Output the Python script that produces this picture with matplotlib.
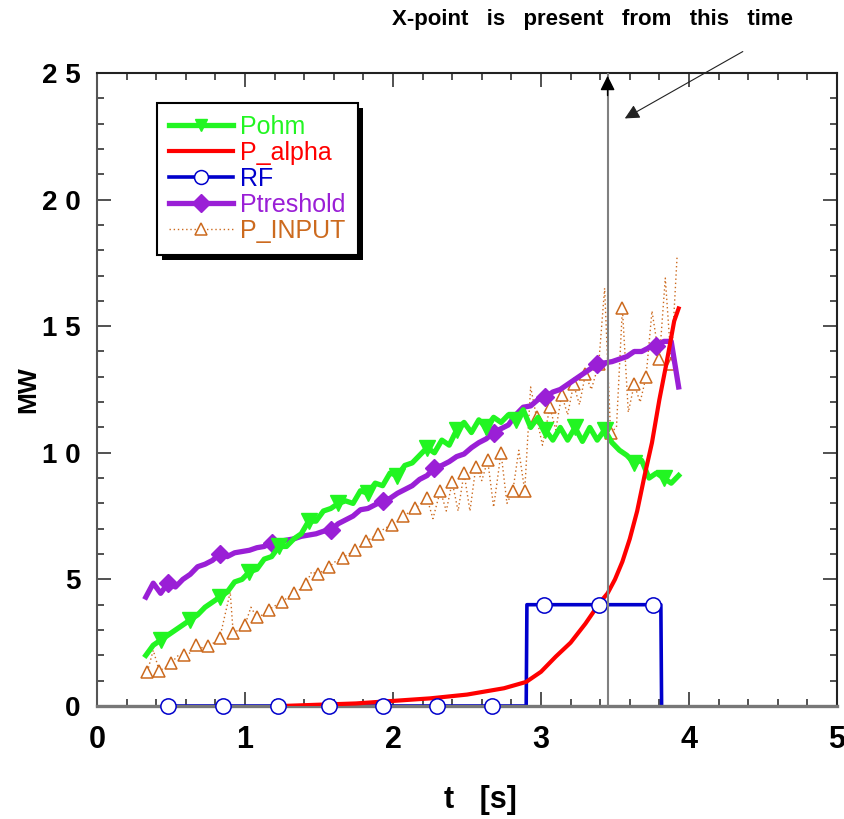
import matplotlib
matplotlib.use('Agg')
import matplotlib.pyplot as plt
from matplotlib.ticker import MultipleLocator
from matplotlib.patches import Rectangle
from matplotlib.lines import Line2D

plt.rcParams['font.family'] = ['Liberation Sans', 'DejaVu Sans']

# time grid shared by Pohm and Ptreshold (s)
t = [0.33, 0.38, 0.43, 0.48, 0.53, 0.58, 0.63, 0.68, 0.73, 0.78,
     0.83, 0.88, 0.93, 0.98, 1.03, 1.08, 1.13, 1.18, 1.23, 1.28,
     1.33, 1.38, 1.43, 1.48, 1.53, 1.58, 1.63, 1.68, 1.73, 1.78,
     1.83, 1.88, 1.93, 1.98, 2.03, 2.08, 2.13, 2.18, 2.23, 2.28,
     2.33, 2.38, 2.43, 2.48, 2.53, 2.58, 2.63, 2.68, 2.73, 2.78,
     2.83, 2.88, 2.93, 2.98, 3.03, 3.08, 3.13, 3.18, 3.23, 3.28,
     3.33, 3.38, 3.43, 3.48, 3.53, 3.58, 3.63, 3.68, 3.73, 3.78,
     3.83, 3.88, 3.93]

p_ohm = [2.0, 2.4, 2.6, 2.8, 3.0, 3.2, 3.4, 3.6, 3.9, 4.1,
         4.3, 4.5, 4.9, 5.0, 5.3, 5.4, 5.8, 5.9, 6.3, 6.3,
         6.6, 6.8, 7.3, 7.3, 7.7, 7.8, 8.0, 8.1, 8.0, 8.5,
         8.4, 8.8, 8.7, 9.2, 9.1, 9.5, 9.6, 9.9, 10.2, 10.0,
         10.5, 10.3, 10.9, 11.2, 10.8, 11.3, 11.0, 11.4, 11.2, 11.5,
         11.3, 11.7, 11.0, 11.4, 10.9, 10.5, 11.0, 10.5, 11.0, 10.45,
         11.0, 10.5, 10.9, 10.4, 10.1, 9.9, 9.6, 9.7, 9.0, 9.2,
         9.0, 8.8, 9.1]

p_thr = [4.3, 4.85, 4.45, 4.85, 4.7, 5.0, 5.2, 5.5, 5.6, 5.75,
         6.0, 5.9, 6.05, 6.1, 6.15, 6.25, 6.3, 6.45, 6.5, 6.55,
         6.6, 6.7, 6.75, 6.8, 6.9, 6.95, 7.2, 7.35, 7.5, 7.75,
         7.8, 7.95, 8.1, 8.2, 8.4, 8.55, 8.7, 8.95, 9.1, 9.4,
         9.5, 9.65, 9.85, 9.95, 10.2, 10.4, 10.55, 10.8, 10.95, 11.1,
         11.5, 11.8, 11.85, 12.1, 12.2, 12.4, 12.5, 12.7, 12.9, 13.1,
         13.3, 13.5, 13.55, 13.6, 13.7, 13.8, 14.0, 14.0, 14.15, 14.2,
         14.4, 14.4, 12.6]
thr_marks = [3, 10, 17, 25, 32, 39, 47, 54, 61, 69]

t_alpha = [1.25, 1.5, 1.75, 2.0, 2.25, 2.5, 2.75, 2.9, 3.0, 3.1, 3.2, 3.3,
           3.4, 3.45, 3.5, 3.55, 3.6, 3.65, 3.7, 3.75, 3.8, 3.85, 3.9, 3.93]
p_alpha = [0.0, 0.05, 0.1, 0.2, 0.3, 0.45, 0.7, 0.95, 1.35, 1.95, 2.5, 3.25,
           4.1, 4.45, 5.0, 5.7, 6.6, 7.7, 9.1, 10.4, 12.1, 13.6, 15.2, 15.7]

t_rf = [0.48, 0.85, 1.22, 1.57, 1.93, 2.30, 2.67, 2.90, 2.905, 3.02, 3.39, 3.76, 3.81, 3.815]
p_rf = [0, 0, 0, 0, 0, 0, 0, 0, 4.0, 4.0, 4.0, 4.0, 4.0, 0]
rf_marks = [0, 1, 2, 3, 4, 5, 6, 9, 10, 11]

t_in = [0.34, 0.38, 0.42, 0.46, 0.50, 0.55, 0.59, 0.63, 0.67, 0.71,
        0.75, 0.79, 0.83, 0.90, 0.92, 0.96, 1.00, 1.04, 1.08, 1.12,
        1.16, 1.20, 1.25, 1.29, 1.33, 1.37, 1.41, 1.45, 1.49, 1.53,
        1.57, 1.61, 1.66, 1.70, 1.74, 1.78, 1.82, 1.86, 1.90, 1.94,
        1.99, 2.03, 2.07, 2.11, 2.15, 2.19, 2.23, 2.27, 2.32, 2.36,
        2.40, 2.44, 2.48, 2.52, 2.56, 2.60, 2.64, 2.68, 2.73, 2.77,
        2.81, 2.85, 2.89, 2.93, 2.97, 3.01, 3.06, 3.10, 3.14, 3.18,
        3.22, 3.26, 3.30, 3.34, 3.39, 3.43, 3.47, 3.51, 3.55, 3.59,
        3.63, 3.67, 3.71, 3.75, 3.80, 3.84, 3.88, 3.92]
p_in = [1.35, 2.2, 1.4, 1.5, 1.7, 2.0, 2.0, 2.1, 2.4, 2.3,
        2.35, 2.5, 2.7, 4.5, 2.9, 3.0, 3.2, 3.9, 3.5, 3.6,
        3.8, 3.95, 4.1, 4.3, 4.45, 4.6, 4.8, 5.3, 5.2, 5.35,
        5.5, 5.7, 5.85, 6.0, 6.15, 6.3, 6.5, 6.65, 6.8, 7.0,
        7.15, 7.3, 7.5, 7.65, 7.8, 8.0, 8.2, 7.4, 8.5, 7.7,
        8.85, 7.7, 9.2, 7.7, 9.45, 8.9, 9.7, 7.85, 10.0, 8.0,
        8.5, 10.1, 8.5, 12.6, 11.4, 10.3, 11.8, 10.9, 12.3, 11.5,
        12.7, 11.9, 13.1, 12.5, 13.5, 16.5, 10.8, 11.0, 15.7, 11.6,
        12.7, 12.0, 13.0, 15.6, 13.7, 16.9, 13.5, 17.8]

t_xpoint = 3.45

c_ohm = '#22f522'
c_alpha = '#ff0000'
c_rf = '#0000cc'
c_thr = '#9a1fd6'
c_in = '#cc6a1e'

fig = plt.figure(figsize=(8.45, 8.19), dpi=100)
ax = fig.add_axes([0.1148, 0.138, 0.8757, 0.7729])

ax.plot(t_in, p_in, color=c_in, lw=1.0, ls=(0, (1, 2)), marker='^', markersize=9,
        markerfacecolor='white', markeredgecolor=c_in, markeredgewidth=1.1,
        markevery=2, zorder=2, label='P_INPUT')
ax.plot(t, p_thr, color=c_thr, lw=3.8, marker='D', markersize=9,
        markevery=thr_marks, zorder=3, label='Ptreshold')
ax.plot(t, p_ohm, color=c_ohm, lw=3.8, marker='v', markersize=11,
        markevery=(2, 4), zorder=4, label='Pohm')
ax.plot(t_alpha, p_alpha, color=c_alpha, lw=3.0, zorder=5, label='P_alpha')
# RF line sits under the bottom spine, its circles on top
ax.plot(t_rf, p_rf, color=c_rf, lw=2.6, zorder=2.2, label='RF')
ax.plot(t_rf, p_rf, ls='none', marker='o', markersize=11,
        markerfacecolor='white', markeredgecolor=c_rf, markeredgewidth=1.1,
        markevery=rf_marks, zorder=6, clip_on=False)

# X-point marker line with arrow head
ax.plot([t_xpoint, t_xpoint], [0, 25], color='#808080', lw=1.5, zorder=7)
ax.annotate('', xy=(t_xpoint, 25), xytext=(t_xpoint, 24.0),
            arrowprops=dict(arrowstyle='-|>', color='black', lw=1, mutation_scale=22),
            zorder=8)
ax.annotate('', xy=(3.55, 23.15), xytext=(4.38, 25.9),
            arrowprops=dict(arrowstyle='-|>', color='#222222', lw=0.8, mutation_scale=22),
            annotation_clip=False, zorder=8)
fig.text(592 / 845, 1 - 20 / 819, 'X-point   is   present   from   this   time',
         ha='center', va='center', fontsize=16, fontweight='bold')

ax.set_xlim(0, 5)
ax.set_ylim(0, 25)
ax.set_xticks([0, 1, 2, 3, 4, 5])
ax.set_xticklabels(['0', '1', '2', '3', '4', '5'],
                   fontfamily=['Liberation Sans Narrow', 'Liberation Sans'],
                   fontweight='bold', fontsize=22)
ax.set_yticks([0, 5, 10, 15, 20, 25])
ax.set_yticklabels(['0', '5', '1 0', '1 5', '2 0', '2 5'], fontweight='bold', fontsize=20)
ax.xaxis.set_minor_locator(MultipleLocator(0.2))
ax.yaxis.set_minor_locator(MultipleLocator(1))
ax.tick_params(which='both', direction='in', top=True, right=True, color='#333333', width=1.2)
ax.tick_params(which='major', length=10)
ax.tick_params(which='minor', length=5)
ax.tick_params(axis='x', which='major', pad=14)
ax.tick_params(axis='y', which='major', pad=12)
for s in ax.spines.values():
    s.set_linewidth(1.5)
    s.set_color('#222222')
ax.spines['bottom'].set_color('#777777')
ax.spines['bottom'].set_linewidth(2.4)
ax.spines['left'].set_color('#555555')

ax.text(-0.093, 0.5, 'MW', rotation=90, ha='center', va='center',
        transform=ax.transAxes, fontsize=19, fontweight='bold')
ax.text(0.518, -0.148, 't   [s]', ha='center', va='center', transform=ax.transAxes,
        fontsize=22, fontweight='bold',
        fontfamily=['Liberation Sans Narrow', 'Liberation Sans'])

# legend
order = ['Pohm', 'P_alpha', 'RF', 'Ptreshold', 'P_INPUT']
styles = {
    'Pohm': dict(color=c_ohm, lw=3.8, marker='v', markersize=9),
    'P_alpha': dict(color=c_alpha, lw=3.0),
    'RF': dict(color=c_rf, lw=2.6, marker='o', markersize=10,
               markerfacecolor='white', markeredgecolor=c_rf, markeredgewidth=1.1),
    'Ptreshold': dict(color=c_thr, lw=3.8, marker='D', markersize=9),
    'P_INPUT': dict(color=c_in, lw=1.0, ls=(0, (1, 2)), marker='^', markersize=9,
                    markerfacecolor='white', markeredgecolor=c_in, markeredgewidth=1.1),
}
handles = [Line2D([], [], **styles[name]) for name in order]
leg = ax.legend(handles, order, loc='upper left', bbox_to_anchor=(0.081, 0.953),
                borderaxespad=0, fancybox=False, edgecolor='black', framealpha=1,
                fontsize=18, handlelength=2.55, handletextpad=0.3,
                labelspacing=0.08, borderpad=0.48)
leg.get_frame().set_linewidth(1.5)
leg.set_zorder(10)
for txt, c in zip(leg.get_texts(), [c_ohm, c_alpha, c_rf, c_thr, c_in]):
    txt.set_color(c)

fig.canvas.draw()
bb = leg.get_window_extent()
inv = ax.transAxes.inverted()
(x0, y0) = inv.transform((bb.x0 + 5, bb.y0 - 5))
(x1, y1) = inv.transform((bb.x1 + 5, bb.y1 - 5))
ax.add_artist(Rectangle((x0, y0), x1 - x0, y1 - y0, transform=ax.transAxes,
                        facecolor='black', edgecolor='none', zorder=9))

fig.savefig('out.png', dpi=100)
